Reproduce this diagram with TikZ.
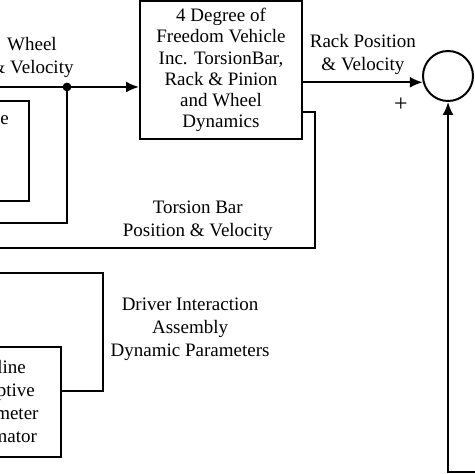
\documentclass[tikz,border=0pt]{standalone}
\usepackage{fontspec}
\setmainfont{Liberation Serif}
\usetikzlibrary{positioning}
\usetikzlibrary{shapes.geometric, arrows.meta}
\tikzstyle{arrow} = [line width=1pt,-{Latex[length=6.5pt,width=5.5pt]}]
\tikzstyle{line} = [line width=1pt]
\tikzstyle{block} = [draw,line width=1pt,align=center]

\begin{document}
\begin{tikzpicture}[x=0.5pt,y=0.5pt,font=\fontsize{9.5}{11.5}\selectfont]
	\useasboundingbox (0,0) rectangle (474,474);
	
	%Nodes
	\node (Veh) [block,minimum width=81pt,minimum height=69pt,font=\fontsize{9.5}{10.6}\selectfont] at (221,404) {4 Degree of\\Freedom Vehicle\\Inc. TorsionBar,\\Rack \& Pinion\\and Wheel\\Dynamics};
	\node (Sum) [draw,circle,line width=1pt,minimum size=25pt,inner sep=0pt] at (448,398) {};
	\node (Est) [block,minimum width=61pt,minimum height=55pt] at (0,72) {Online\\Adaptive\\Parameter\\Estimator};
	\node (Tq) [block,minimum width=70pt,minimum height=50pt] at (-41,323) {};
	\node (TqText) at (-18,354) {Torque};
	\node (plus) [font=\fontsize{12}{12}\selectfont] at (401,369) {+};
	\node (HwLabel) [align=center] at (6.5,417) {Hand\hspace{2.5pt} Wheel\\Angle \& Velocity};
	
	%Coordinates
	\coordinate (dot) at (67,387);
	\coordinate (hwIn) at (-20,387);
	\coordinate (hwFb) at (-20,251);
	\coordinate (tbA) at (315,362);
	\coordinate (tbB) at (315,226);
	\coordinate (tbEnd) at (-20,226);
	\coordinate (drA) at (-20,201);
	\coordinate (drB) at (103,201);
	\coordinate (drC) at (103,83);
	\coordinate (fbIn) at (490,2);
	
	%Lines
	\draw[arrow] (hwIn) -- (dot) -- (Veh.west |- dot);
	\fill (dot) circle (2.2pt);
	\draw[line] (dot) |- (hwFb);
	\draw[arrow] (Veh.east |- Sum.194) -- node[anchor=south,align=center]{Rack Position\\\& Velocity} (Sum.194);
	\draw[line] (Veh.east |- tbA) -- (tbA) -- (tbB) -- node[pos=0.35,anchor=south,align=center]{Torsion Bar\\Position \& Velocity} (tbEnd);
	\draw[line] (drA) -- (drB) -- node[anchor=west,align=center,yshift=1.5pt]{Driver Interaction\\Assembly\\Dynamic Parameters} (drC) -- (Est.east |- drC);
	\draw[arrow] (fbIn) -| (Sum.south);
	
\end{tikzpicture}
\end{document}
